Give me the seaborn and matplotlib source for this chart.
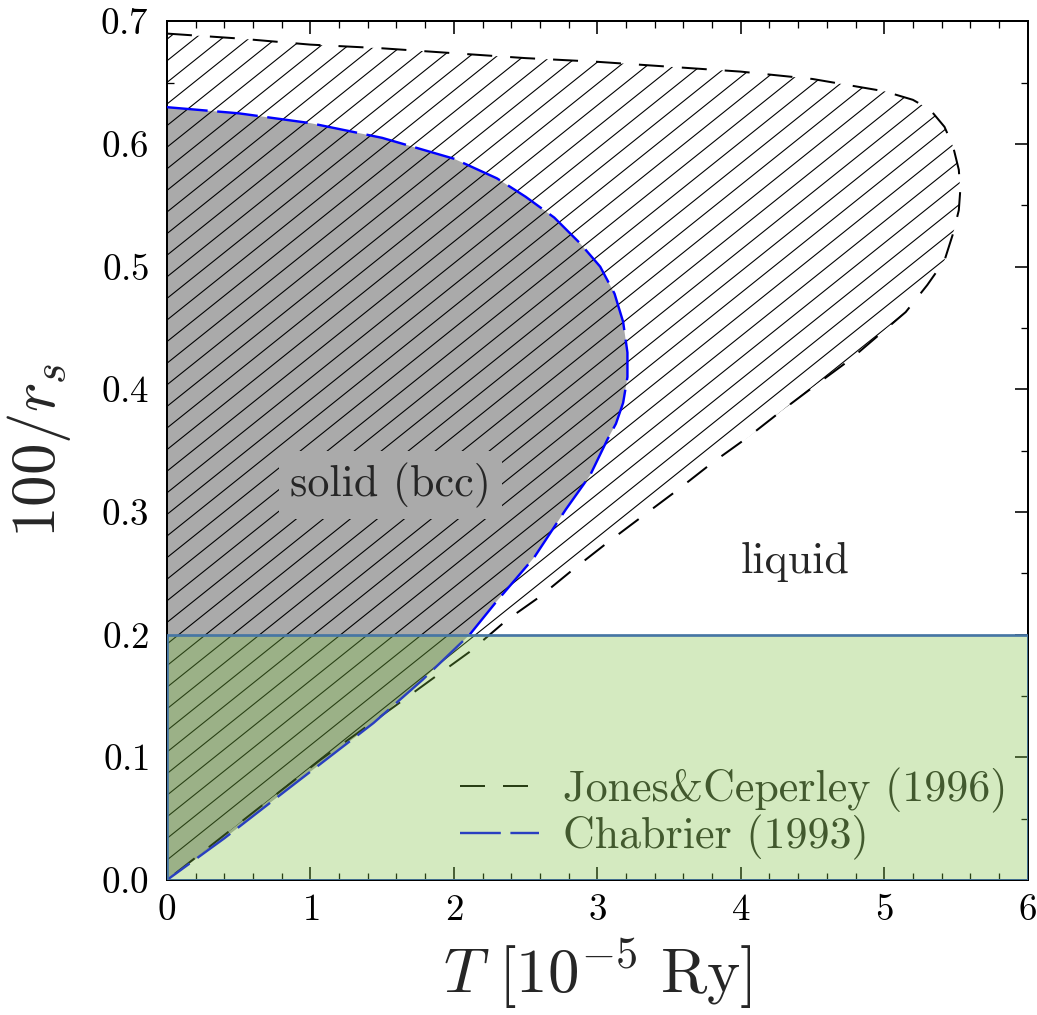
import matplotlib
matplotlib.use("Agg")
import matplotlib.pyplot as plt
import matplotlib.hatch as mhatch
from matplotlib.path import Path
from matplotlib.patches import Rectangle
from matplotlib.ticker import MultipleLocator
import numpy as np
import seaborn as sns

# Jones & Ceperley (1996) melting curve, T [1e-5 Ry] vs 100/r_s
jc_T = [0.0, 0.5, 1.0, 1.5, 2.0, 2.5, 3.0, 3.5, 4.0, 4.5, 5.0, 5.2, 5.32, 5.42,
        5.48, 5.52, 5.53, 5.52, 5.48, 5.42, 5.3, 5.15, 5.0, 4.76, 4.54, 4.29,
        4.05, 3.8, 3.56, 3.32, 3.07, 2.83, 2.6, 2.37, 2.11, 1.85, 1.58, 1.07,
        0.6, 0.0]
jc_y = [0.690, 0.686, 0.681, 0.678, 0.674, 0.670, 0.667, 0.663, 0.659, 0.653,
        0.643, 0.636, 0.628, 0.614, 0.598, 0.579, 0.562, 0.546, 0.527, 0.505,
        0.485, 0.463, 0.448, 0.424, 0.405, 0.383, 0.361, 0.340, 0.318, 0.297,
        0.275, 0.253, 0.231, 0.212, 0.186, 0.164, 0.141, 0.098, 0.055, 0.0]

# Chabrier (1993) bcc solid boundary
ch_T = [0.0, 0.5, 1.0, 1.5, 2.0, 2.3, 2.5, 2.7, 2.88, 3.02, 3.12, 3.18, 3.21,
        3.21, 3.18, 3.13, 3.07, 2.95, 2.78, 2.56, 2.29, 2.11, 1.78, 1.44, 0.83,
        0.4, 0.0]
ch_y = [0.630, 0.625, 0.617, 0.605, 0.588, 0.572, 0.557, 0.540, 0.519, 0.500,
        0.478, 0.455, 0.430, 0.410, 0.389, 0.372, 0.359, 0.330, 0.302, 0.263,
        0.226, 0.200, 0.163, 0.128, 0.073, 0.034, 0.0]

box_T = [0.0, 6.0]
box_y = [0.0, 0.2]


# flatter '/' hatch (slope 4/5) like the original figure
class ShallowHatch(mhatch.HatchPatternBase):
    def __init__(self, hatch, density):
        self.offsets = np.arange(-5, 6) / 5 if "/" in hatch else np.array([])
        self.num_vertices = 2 * len(self.offsets)

    def set_vertices_and_codes(self, vertices, codes):
        vertices[0::2, 0] = 0.0
        vertices[0::2, 1] = self.offsets
        vertices[1::2, 0] = 1.0
        vertices[1::2, 1] = self.offsets + 0.8
        codes[0::2] = Path.MOVETO
        codes[1::2] = Path.LINETO


mhatch._hatch_types[mhatch._hatch_types.index(mhatch.NorthEastHatch)] = ShallowHatch

DPI = 108  # hatch cell = 1 inch -> 27 px line spacing


def pt(px):
    # sizes below in pixels
    return px * 72 / DPI


sns.set_style("ticks")
plt.rcParams.update({
    "font.family": "serif",
    "font.serif": ["cmr10", "DejaVu Serif"],
    "mathtext.fontset": "cm",
    "axes.formatter.use_mathtext": True,
    "xtick.direction": "in", "ytick.direction": "in",
    "xtick.top": True, "ytick.right": True,
    "xtick.minor.visible": True, "ytick.minor.visible": True,
    "xtick.major.size": pt(13), "ytick.major.size": pt(13),
    "xtick.minor.size": pt(7), "ytick.minor.size": pt(7),
    "xtick.major.width": pt(1.6), "ytick.major.width": pt(1.6),
    "xtick.minor.width": pt(1.3), "ytick.minor.width": pt(1.3),
    "xtick.color": "black", "ytick.color": "black",
    "axes.edgecolor": "black", "axes.linewidth": pt(2),
    "hatch.linewidth": pt(1.1),
})

fig = plt.figure(figsize=(1037 / DPI, 1015 / DPI), dpi=DPI)
ax = fig.add_axes([0.161, 0.133, 0.830, 0.846])

ax.fill(ch_T, ch_y, facecolor="#aaaaaa", edgecolor="none", linewidth=0, zorder=1)
ax.fill(jc_T, jc_y, facecolor="none", edgecolor="black", hatch="/",
        linewidth=0, zorder=1.5)

sns.lineplot(x=jc_T, y=jc_y, sort=False, estimator=None, color="black",
             linewidth=pt(2), linestyle=(0, (12.5, 9)), label="Jones&Ceperley (1996)",
             ax=ax, zorder=3)
sns.lineplot(x=ch_T, y=ch_y, sort=False, estimator=None, color="blue",
             linewidth=pt(2.4), linestyle=(0, (17, 4)), label="Chabrier (1993)",
             ax=ax, zorder=3)

ax.add_patch(Rectangle((box_T[0], box_y[0]), box_T[1] - box_T[0], box_y[1] - box_y[0],
                       facecolor=(0.49, 0.76, 0.25, 0.33), edgecolor="#4676a4",
                       linewidth=pt(2.7), zorder=10))

# label sits on a plain grey patch that hides the hatching
ax.text(1.56, 0.322, "solid (bcc)", fontsize=pt(44), ha="center", va="center",
        zorder=4, bbox=dict(boxstyle="square,pad=0.25", facecolor="#aaaaaa",
                            edgecolor="none"))
ax.text(4.38, 0.259, "liquid", fontsize=pt(44), ha="center", va="center")

ax.set_xlim(0, 6)
ax.set_ylim(0, 0.7)
ax.xaxis.set_major_locator(MultipleLocator(1))
ax.xaxis.set_minor_locator(MultipleLocator(0.2))
ax.yaxis.set_major_locator(MultipleLocator(0.1))
ax.yaxis.set_minor_locator(MultipleLocator(0.05))
ax.tick_params(axis="both", which="major", labelsize=pt(37))
ax.tick_params(axis="y", pad=pt(18))
ax.tick_params(axis="x", pad=pt(13.5))

ax.set_xlabel(r"$T\ [10^{-5}\ \mathrm{Ry}]$", fontsize=pt(63), labelpad=pt(9))
ax.set_ylabel(r"$100/r_s$", fontsize=pt(63), labelpad=pt(27))

ax.legend(loc="lower right", frameon=False, fontsize=pt(44), handlelength=1.8,
          handletextpad=0.55, labelspacing=0.05, borderaxespad=0.05)

fig.savefig("out.png", dpi=DPI)
